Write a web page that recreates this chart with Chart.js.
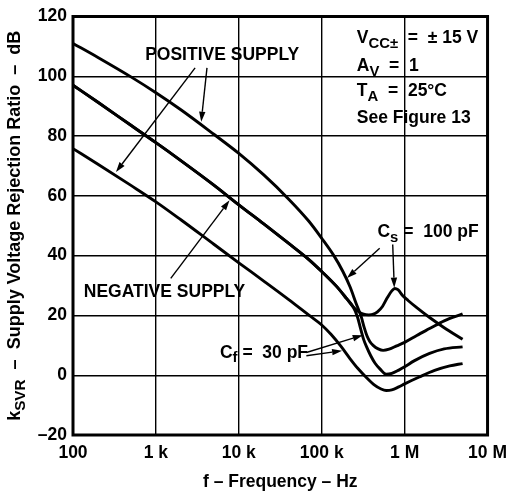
<!DOCTYPE html>
<html><head><meta charset="utf-8">
<script src="https://cdn.jsdelivr.net/npm/chart.js@4.4.1/dist/chart.umd.min.js"></script>
<style>html,body{margin:0;padding:0;background:#fff;}</style>
</head><body>
<canvas id="c" width="515" height="496"></canvas>
<script>
// ---- axis ticks ----
const xTickValues = [100, 1e3, 1e4, 1e5, 1e6, 1e7];
const xTickLabels = ['100', '1 k', '10 k', '100 k', '1 M', '10 M'];
const yTickValues = [-20, 0, 20, 40, 60, 80, 100, 120];
const yTickLabels = ['\u201320', '0', '20', '40', '60', '80', '100', '120'];

// ---- series (frequency in Hz, kSVR in dB) ----
// positive supply (upper curve)
const freqPos = [100, 200, 500, 1e3, 2e3, 5e3, 1e4, 2e4, 4e4, 7e4, 1e5, 1.4e5, 1.8e5, 2.2e5, 2.6e5, 3e5, 3.25e5, 3.5e5, 3.8e5, 4.2e5, 4.8e5, 5.5e5, 6.5e5, 8e5, 1e6, 1.4e6, 2e6, 3e6, 5e6];
const kPos     = [111, 106.3, 99.8, 94.5, 88.8, 80.6, 74.2, 67, 58.9, 51.5, 45.8, 40, 34.7, 29.5, 24, 19.5, 16, 13.3, 11.3, 9.9, 8.8, 8.3, 8.7, 9.8, 11, 13.3, 15.6, 18.2, 20.5];
// negative supply (middle curve), Cs = 100 pF branch with peak
const freqNegCs = [100, 200, 500, 1e3, 2e3, 5e3, 1e4, 2e4, 4e4, 7e4, 1e5, 1.5e5, 2e5, 2.4e5, 2.8e5, 3.2e5, 3.7e5, 4.2e5, 4.7e5, 5.4e5, 6.2e5, 7e5, 7.6e5, 8.3e5, 9.5e5, 1.1e6, 1.4e6, 2e6, 3e6, 5e6];
const kNegCs    = [97, 91.3, 83.6, 77.8, 71.8, 63.6, 57, 50.6, 44.1, 38.7, 34.7, 29.8, 25.6, 22.8, 21.2, 20.4, 20.2, 20.4, 21.2, 23, 26, 28.2, 29, 28.6, 26.6, 25, 22.6, 19.3, 15.9, 12];
// negative supply, Cf = 30 pF branch
const freqNegCf = [100, 200, 500, 1e3, 2e3, 5e3, 1e4, 2e4, 4e4, 7e4, 1e5, 1.5e5, 2e5, 2.4e5, 2.7e5, 2.95e5, 3.2e5, 3.5e5, 3.9e5, 4.4e5, 5e5, 6e5, 7e5, 8.5e5, 1e6, 1.3e6, 2e6, 3e6, 5e6];
const kNegCf    = [97, 91.3, 83.6, 77.8, 71.8, 63.6, 57, 50.6, 44.1, 38.7, 34.7, 29.8, 25.6, 22.8, 19.5, 15.5, 12, 9.3, 6.5, 4, 2.2, 0.3, 0.6, 1.7, 2.8, 4.8, 7.3, 8.8, 9.5];
// positive supply (lower curve)
const freqLow = [100, 200, 500, 1e3, 2e3, 5e3, 1e4, 2e4, 4e4, 7e4, 1e5, 1.3e5, 1.7e5, 2.2e5, 2.7e5, 3.5e5, 4.3e5, 5.2e5, 6e5, 7e5, 8.5e5, 1e6, 1.5e6, 2.3e6, 3.5e6, 5e6];
const kLow     = [75.8, 70.6, 63.5, 58, 52, 43.8, 37.6, 31.5, 25.3, 20.1, 16.8, 13.6, 9.7, 5.5, 2.4, -0.9, -3.2, -4.6, -5.1, -4.9, -3.9, -2.9, -0.6, 1.6, 3.1, 3.9];

// ---- annotations (text in data coords: frequency, dB) ----
const noteParts = [
  [['POSITIVE SUPPLY', 'n']],
  [['NEGATIVE SUPPLY', 'n']],
  [['V', 'n'], ['CC\u00b1', 's'], ['  =  \u00b1 15 V', 'n']],
  [['A', 'n'], ['V', 's'], ['  =  1', 'n']],
  [['T', 'n'], ['A', 's'], ['  =  25\u00b0C', 'n']],
  [['See Figure 13', 'n']],
  [['C', 'n'], ['s', 's'], [' =  100 pF', 'n']],
  [['C', 'n'], ['f', 's'], [' =  30 pF', 'n']]
];
const noteFreq = [742, 135, 265000, 265000, 265000, 265000, 470000, 5920];
const noteDb   = [107.2, 27.9, 112.7, 103.3, 94.9, 85.9, 47.7, 7.4];
// arrows: from -> to (frequency, dB)
const arrowFromF = [4130, 2970, 1510, 500000, 718000, 65300, 65300];
const arrowFromD = [102.8, 102.8, 32.4, 42.5, 43.7, 7.6, 6.5];
const arrowToF   = [3520, 330, 7730, 202000, 750000, 312000, 176000];
const arrowToD   = [84.8, 68, 58.5, 32.5, 29.3, 13.4, 8.2];

const FONT = "'Liberation Sans', Arial, Helvetica, sans-serif";
const FS = 17.5;
const pts = (fs, vs) => fs.map((f, i) => ({x: f, y: vs[i]}));
const line = (data) => ({data, borderColor: '#000', borderWidth: 2.9, pointRadius: 0,
  fill: false, cubicInterpolationMode: 'monotone', clip: false});

function drawRich(ctx, x, y, parts, size) {
  let cx = x;
  for (const [t, k] of parts) {
    const sub = k === 's';
    const s = sub ? size * 0.85 : size;
    ctx.font = `bold ${s}px ${FONT}`;
    ctx.fillText(t, cx, y + (sub ? size * 0.3 : 0));
    cx += ctx.measureText(t).width;
  }
  return cx - x;
}
function arrow(ctx, x1, y1, x2, y2) {
  const a = Math.atan2(y2 - y1, x2 - x1), L = 10, W = 3.2;
  const bx = x2 - L * Math.cos(a), by = y2 - L * Math.sin(a);
  ctx.lineWidth = 1.4;
  ctx.beginPath(); ctx.moveTo(x1, y1); ctx.lineTo(bx, by); ctx.stroke();
  ctx.beginPath(); ctx.moveTo(x2, y2);
  ctx.lineTo(bx + W * Math.sin(a), by - W * Math.cos(a));
  ctx.lineTo(bx - W * Math.sin(a), by + W * Math.cos(a));
  ctx.closePath(); ctx.fill();
}

const decor = {
  id: 'decor',
  afterDraw(chart) {
    const {ctx, chartArea: a, scales: {x, y}} = chart;
    ctx.save();
    ctx.strokeStyle = '#000'; ctx.fillStyle = '#000';
    ctx.lineWidth = 3;
    ctx.strokeRect(a.left, a.top, a.right - a.left, a.bottom - a.top);
    ctx.textBaseline = 'middle'; ctx.textAlign = 'left';
    noteParts.forEach((p, i) => {
      drawRich(ctx, x.getPixelForValue(noteFreq[i]), y.getPixelForValue(noteDb[i]), p, FS);
    });
    arrowFromF.forEach((f, i) => {
      arrow(ctx, x.getPixelForValue(f), y.getPixelForValue(arrowFromD[i]),
        x.getPixelForValue(arrowToF[i]), y.getPixelForValue(arrowToD[i]));
    });
    // y axis title with subscript
    const TS = 18;
    const parts = [['k', 'n'], ['SVR', 's'], ['  \u2013  Supply Voltage Rejection Ratio  \u2013  dB', 'n']];
    ctx.translate(15, (a.top + a.bottom) / 2);
    ctx.rotate(-Math.PI / 2);
    let w = 0;
    for (const [t, k] of parts) { ctx.font = `bold ${k === 's' ? TS * 0.85 : TS}px ${FONT}`; w += ctx.measureText(t).width; }
    drawRich(ctx, -w / 2, 0, parts, TS);
    ctx.restore();
  }
};

new Chart(document.getElementById('c'), {
  type: 'line',
  data: {datasets: [line(pts(freqPos, kPos)), line(pts(freqNegCs, kNegCs)),
                    line(pts(freqNegCf, kNegCf)), line(pts(freqLow, kLow))]},
  options: {
    responsive: false, animation: false,
    layout: {padding: {top: 0, right: 0, bottom: 0, left: 0}},
    plugins: {legend: {display: false}, tooltip: {enabled: false}},
    scales: {
      x: {type: 'logarithmic', min: 100, max: 1e7,
        afterBuildTicks: (s) => { s.ticks = xTickValues.map(v => ({value: v})); },
        afterFit: (s) => { s.height = 61; },
        grid: {color: '#000', lineWidth: 1.4, drawTicks: false},
        border: {display: false},
        ticks: {autoSkip: false, maxRotation: 0, padding: 8, color: '#000',
          font: {family: FONT, size: FS, weight: 'bold'},
          callback: (v) => { const i = xTickValues.indexOf(v); return i >= 0 ? xTickLabels[i] : ''; }},
        title: {display: true, text: 'f \u2013 Frequency \u2013 Hz', color: '#000',
          font: {family: FONT, size: FS, weight: 'bold'}, padding: {top: 0, bottom: 3}}
      },
      y: {min: -20, max: 120,
        afterBuildTicks: (s) => { s.ticks = yTickValues.map(v => ({value: v})); },
        afterFit: (s) => { s.width = 73; },
        grid: {color: '#000', lineWidth: 1.4, drawTicks: false},
        border: {display: false},
        ticks: {padding: 6, color: '#000', font: {family: FONT, size: FS, weight: 'bold'},
          callback: (v) => { const i = yTickValues.indexOf(v); return i >= 0 ? yTickLabels[i] : ''; }}
      }
    }
  },
  plugins: [decor]
});
</script>
</body></html>
